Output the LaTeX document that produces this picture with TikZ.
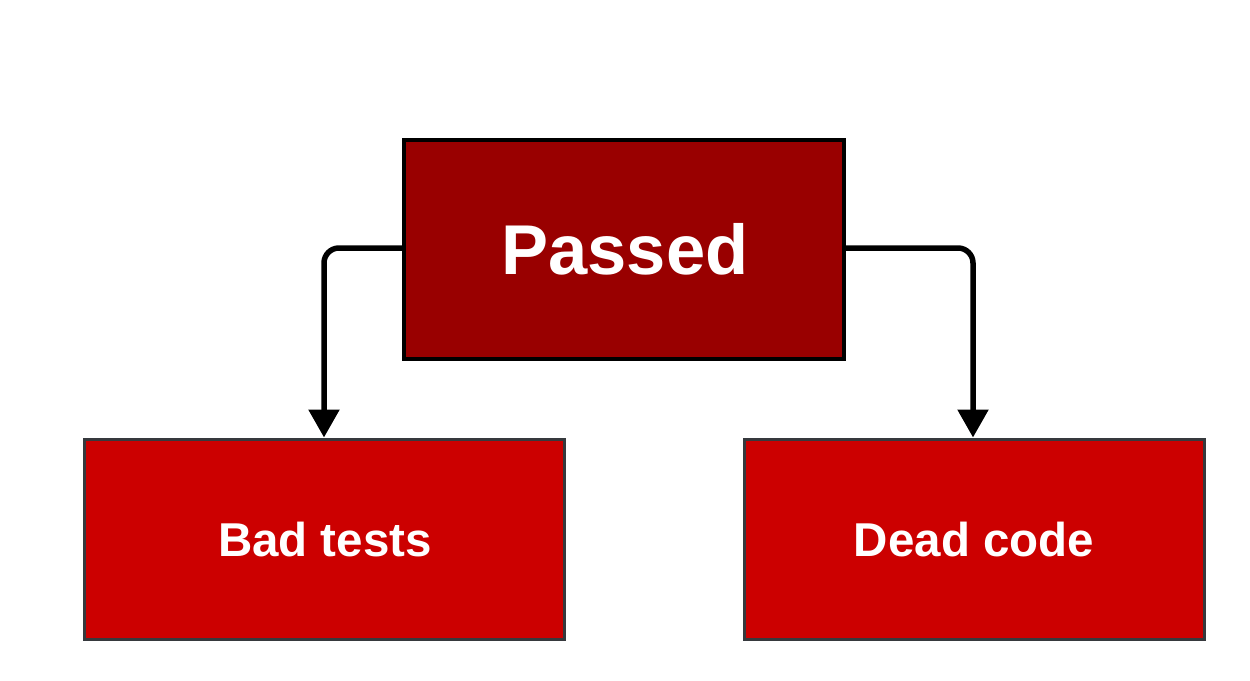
\documentclass[tikz,border=0pt]{standalone}
\usepackage{fontspec}
\setmainfont{Liberation Sans}
\usetikzlibrary{arrows.meta}
\definecolor{topred}{HTML}{990000}
\definecolor{botred}{HTML}{CC0000}
\definecolor{botborder}{HTML}{36393D}
\begin{document}
\begin{tikzpicture}[x=1pt,y=-1pt,
  topbox/.style={draw=black,line width=3.5pt,fill=topred,minimum width=440pt,minimum height=219pt,inner sep=0pt},
  botbox/.style={draw=botborder,line width=3pt,fill=botred,inner sep=0pt},
  lbl/.style={text=white,font=\bfseries,inner sep=0pt,anchor=base},
  conn/.style={draw=black,line width=5.5pt,rounded corners=15pt,-{Triangle[width=30pt,length=28pt]}}]
\useasboundingbox (0,0) rectangle (1250,680);
\node[topbox] (passed) at (624,249.5) {};
\node[botbox,minimum width=480pt,minimum height=200pt] (bad) at (324,539) {};
\node[botbox,minimum width=460pt,minimum height=200pt] (dead) at (974,539) {};
\node[lbl] (tp) at (625,274) {\fontsize{70.5}{78}\selectfont Passed};
\node[lbl] (tb) at (325,556) {\fontsize{47.5}{54}\selectfont Bad tests};
\node[lbl] (td) at (974,556) {\fontsize{47.5}{54}\selectfont Dead code};
\coordinate (lc) at (324,248);
\coordinate (rc) at (973,248);
\draw[conn] (passed.west |- lc) -- (lc) -- (lc |- bad.north);
\draw[conn] (passed.east |- rc) -- (rc) -- (rc |- dead.north);
\end{tikzpicture}
\end{document}
